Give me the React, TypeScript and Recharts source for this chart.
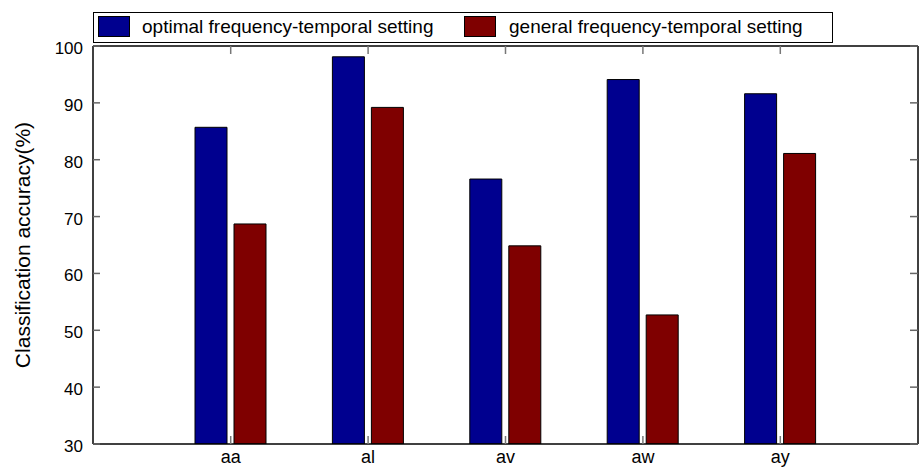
import React from 'react';
import { BarChart, Bar, XAxis, YAxis, Legend } from 'recharts';

const categories = ['aa', 'al', 'av', 'aw', 'ay'];
const optimalValues = [85.7, 98.1, 76.6, 94.1, 91.6];
const generalValues = [68.7, 89.2, 64.85, 52.7, 81.1];
const yTicks = [30, 40, 50, 60, 70, 80, 90, 100];
const seriesNames = ['optimal frequency-temporal setting', 'general frequency-temporal setting'];
const yLabel = 'Classification accuracy(%)';

const BLUE = '#00008f';
const RED = '#7f0000';
const FONT = '"Liberation Sans", Arial, sans-serif';

const data = categories.map((c, i) => ({ name: c, optimal: optimalValues[i], general: generalValues[i] }));

const BottomTick = (props: any) => {
  const { x, y, payload } = props;
  return (
    <g>
      <line x1={x} x2={x} y1={y} y2={y - 8} stroke="#777" strokeWidth={1.5} />
      <text x={x} y={y + 19} textAnchor="middle" fontSize={18} fill="#000" fontFamily={FONT}>
        {payload.value}
      </text>
    </g>
  );
};

const TopTick = (props: any) => {
  const { x, y } = props;
  return <line x1={x} x2={x} y1={y} y2={y + 8} stroke="#777" strokeWidth={1.5} />;
};

const LeftTick = (props: any) => {
  const { x, y, payload } = props;
  return (
    <g>
      <line x1={x} x2={x + 7} y1={y} y2={y} stroke="#666" strokeWidth={1.5} />
      <text x={x - 10} y={y + 8} textAnchor="end" fontSize={17} fill="#000" fontFamily={FONT}>
        {payload.value}
      </text>
    </g>
  );
};

const RightTick = (props: any) => {
  const { x, y } = props;
  return <line x1={x} x2={x - 8} y1={y} y2={y} stroke="#666" strokeWidth={1.5} />;
};

const LegendContent = () => (
  <div
    style={{
      position: 'relative',
      width: 740,
      height: 31,
      boxSizing: 'border-box',
      border: '1.5px solid #000',
      background: '#fff',
      fontFamily: FONT,
      fontSize: 19,
      color: '#000',
    }}
  >
    {[BLUE, RED].map((col, i) => (
      <React.Fragment key={i}>
        <div
          style={{
            position: 'absolute',
            left: i === 0 ? 4 : 370,
            top: 3,
            width: 32,
            height: 21,
            boxSizing: 'border-box',
            background: col,
            border: '1px solid #000',
          }}
        />
        <div
          style={{
            position: 'absolute',
            left: i === 0 ? 48 : 415,
            top: 2,
            lineHeight: '24px',
            whiteSpace: 'nowrap',
          }}
        >
          {seriesNames[i]}
        </div>
      </React.Fragment>
    ))}
  </div>
);

export default function App() {
  return (
    <div style={{ position: 'absolute', left: 0, top: 0, width: 920, height: 467, background: '#fff' }}>
      <BarChart
        width={920}
        height={467}
        data={data}
        margin={{ top: 45, right: 1, bottom: 22, left: 92 }}
        barGap={7}
        style={{ fontFamily: FONT }}
      >
        <XAxis
          dataKey="name"
          height={1}
          padding={{ left: 69, right: 69 }}
          axisLine={{ stroke: '#000', strokeWidth: 1.5 }}
          tickLine={false}
          tickSize={0}
          tickMargin={0}
          interval={0}
          tick={<BottomTick />}
        />
        <XAxis
          xAxisId="top"
          dataKey="name"
          orientation="top"
          height={1}
          padding={{ left: 69, right: 69 }}
          axisLine={{ stroke: '#000', strokeWidth: 1.5 }}
          tickLine={false}
          tickSize={0}
          tickMargin={0}
          interval={0}
          tick={<TopTick />}
        />
        <YAxis
          width={1}
          domain={[30, 100]}
          ticks={yTicks}
          interval={0}
          allowDataOverflow
          axisLine={{ stroke: '#000', strokeWidth: 1.5 }}
          tickLine={false}
          tickSize={0}
          tickMargin={0}
          tick={<LeftTick />}
          label={{ value: yLabel, angle: -90, position: 'center', dx: -70, fontSize: 21, fill: '#000', fontFamily: FONT }}
        />
        <YAxis
          yAxisId="right"
          orientation="right"
          width={1}
          domain={[30, 100]}
          ticks={yTicks}
          interval={0}
          allowDataOverflow
          axisLine={{ stroke: '#000', strokeWidth: 1.5 }}
          tickLine={false}
          tickSize={0}
          tickMargin={0}
          tick={<RightTick />}
        />
        <Legend
          layout="horizontal"
          verticalAlign="middle"
          align="center"
          wrapperStyle={{ top: 12, left: 93, width: 740, height: 31 }}
          content={<LegendContent />}
        />
        <Bar dataKey="optimal" name={seriesNames[0]} fill={BLUE} stroke="#000" strokeWidth={1} barSize={32} isAnimationActive={false} />
        <Bar dataKey="general" name={seriesNames[1]} fill={RED} stroke="#000" strokeWidth={1} barSize={32} isAnimationActive={false} />
      </BarChart>
    </div>
  );
}
